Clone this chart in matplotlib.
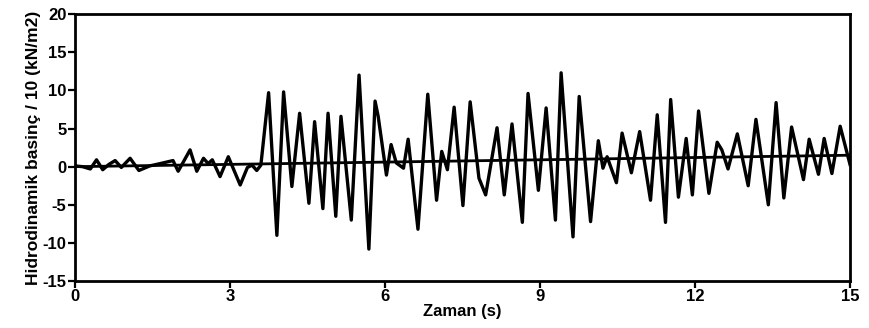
import matplotlib.pyplot as plt

plt.rcParams['font.family'] = ['Liberation Sans', 'DejaVu Sans']
plt.rcParams['font.weight'] = 'bold'
plt.rcParams['axes.unicode_minus'] = False

# time (s) and pressure / 10 (kN/m2)
zaman = [0.0, 0.15, 0.3, 0.42, 0.54, 0.66, 0.78, 0.9, 1.07, 1.24, 1.45, 1.65, 1.9,
         2.0, 2.23, 2.36, 2.49, 2.58, 2.66, 2.81, 2.97, 3.2, 3.34, 3.43, 3.52, 3.6,
         3.75, 3.91, 4.04, 4.2, 4.35, 4.53, 4.64, 4.8, 4.9, 5.05, 5.15, 5.35, 5.5,
         5.69, 5.81, 5.87, 6.03, 6.12, 6.22, 6.36, 6.45, 6.64, 6.83, 7.0, 7.1, 7.21,
         7.34, 7.51, 7.65, 7.82, 7.95, 8.17, 8.31, 8.46, 8.66, 8.77, 8.97, 9.12, 9.3,
         9.41, 9.64, 9.76, 9.98, 10.13, 10.22, 10.3, 10.48, 10.59, 10.77, 10.93,
         11.14, 11.27, 11.43, 11.53, 11.68, 11.83, 11.95, 12.07, 12.27, 12.43, 12.52,
         12.64, 12.82, 13.03, 13.18, 13.42, 13.57, 13.72, 13.87, 14.1, 14.21, 14.39,
         14.5, 14.65, 14.81, 15.0]
basinc = [0.1, 0.0, -0.3, 0.9, -0.4, 0.3, 0.8, -0.1, 1.1, -0.5, 0.1, 0.4, 0.8,
          -0.6, 2.2, -0.6, 1.1, 0.4, 0.9, -1.3, 1.3, -2.4, -0.1, 0.2, -0.5, 0.2,
          9.7, -9.0, 9.8, -2.6, 7.0, -4.8, 5.9, -5.5, 7.0, -6.5, 6.6, -7.0, 12.0,
          -10.8, 8.6, 6.6, -1.1, 2.9, 0.5, -0.2, 3.6, -8.2, 9.5, -4.4, 2.0, -0.4,
          7.8, -5.1, 8.5, -1.5, -3.7, 5.1, -3.7, 5.6, -7.3, 9.6, -3.1, 7.7, -7.0,
          12.3, -9.2, 9.2, -7.2, 3.4, -0.2, 1.3, -2.1, 4.4, -0.8, 4.6,
          -4.4, 6.8, -7.3, 8.8, -4.0, 3.7, -3.7, 7.3, -3.5, 3.2, 2.2,
          -0.3, 4.3, -2.5, 6.2, -5.0, 8.4, -4.1, 5.2, -1.7, 3.6, -1.0,
          3.7, -0.9, 5.3, 0.3]

# reference line drawn across the record
ref_t = [0, 15]
ref_y = [0.0, 1.5]

fig = plt.figure(figsize=(8.7, 3.28), dpi=100)
ax = fig.add_axes([0.086, 0.143, 0.891, 0.814])

ax.plot(zaman, basinc, color='black', lw=2.4, solid_joinstyle='round')
ax.plot(ref_t, ref_y, color='black', lw=2.0)

ax.set_xlim(0, 15)
ax.set_ylim(-15, 20)
ax.set_xticks([0, 3, 6, 9, 12, 15])
ax.set_yticks([-15, -10, -5, 0, 5, 10, 15, 20])
ax.tick_params(direction='out', length=5, width=1.6, labelsize=12, pad=1)
for s in ax.spines.values():
    s.set_linewidth(2.0)

ax.set_xlabel('Zaman (s)', fontsize=12, fontweight='bold', labelpad=0)
ax.set_ylabel('Hidrodinamik basinç / 10 (kN/m2)', fontsize=12.5, fontweight='bold', labelpad=1)

plt.savefig('out.png', dpi=100)
